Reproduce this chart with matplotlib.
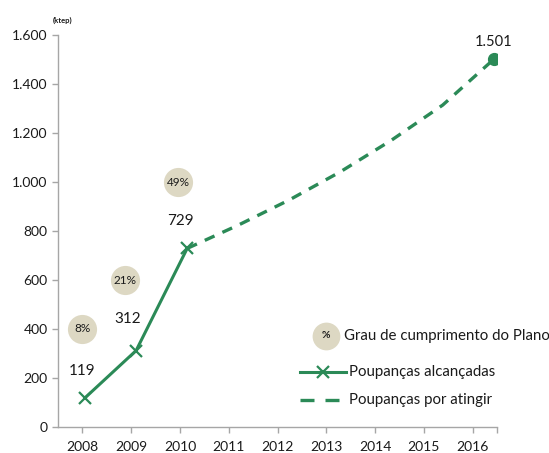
import matplotlib
matplotlib.use("Agg")
import matplotlib.pyplot as plt
from matplotlib.lines import Line2D
from matplotlib.ticker import FuncFormatter

plt.rcParams['font.family'] = ['Lato', 'DejaVu Sans']

years = ['2008', '2009', '2010', '2011', '2012', '2013', '2014', '2015', '2016']
achieved = [119, 312, 729]                     # 2008-2010
target = [729, 824, 927, 1042, 1171, 1314, 1501]  # 2010-2016 (path to target)
achieved_labels = ['119', '312', '729']
pct = ['8%', '21%', '49%']
pct_y = [400, 600, 1000]
target_label = '1.501'

GREEN = '#2b8a57'
TAN = '#ddd8c3'
GREY = '#a6a6a6'
TXT = '#1a1a1a'

W, H = 549, 453
fig = plt.figure(figsize=(W / 100, H / 100), dpi=100)
ax = fig.add_axes([58 / W, 26 / H, (497 - 58) / W, (427 - 35) / H])

# main category axis
ax.set_xlim(-0.5, 8.5)
ax.set_ylim(0, 1600)
ax.set_xticks(range(len(years)))
ax.set_xticklabels(years)
ax.set_yticks(range(0, 1601, 200))
ax.yaxis.set_major_formatter(FuncFormatter(lambda v, p: f"{int(v):,}".replace(',', '.')))
for s in ['top', 'right']:
    ax.spines[s].set_visible(False)
for s in ['left', 'bottom']:
    ax.spines[s].set_color(GREY)
    ax.spines[s].set_linewidth(1.0)
ax.tick_params(axis='both', colors=GREY, length=4, width=1.0, labelcolor=TXT, labelsize=10)
ax.tick_params(axis='x', pad=6)
ax.set_xticks([8.5], minor=True)
ax.tick_params(axis='x', which='minor', length=4, width=1.0, colors=GREY)

# twin axis for the savings lines (own horizontal scale, as in the original overlay)
ax2 = ax.twiny()
step = 51.1
ax2.set_xlim((58 - 85) / step, (497 - 85) / step)
ax2.set_ylim(0, 1600)
ax2.axis('off')

xa = list(range(len(achieved)))
xt = list(range(len(achieved) - 1, len(achieved) - 1 + len(target)))
ax2.plot(xt, target, color=GREEN, lw=2.4, ls=(0, (3.2, 2.6)), dash_capstyle='butt', zorder=3)
ax2.plot(xa, achieved, color=GREEN, lw=2.2, marker='x', ms=9, mew=1.6, zorder=4)
ax2.plot([xt[-1]], [target[-1]], marker='o', color=GREEN, ms=8.5, zorder=5)
ax2.text(xt[-1], target[-1] + 40, target_label, ha='center', va='bottom', fontsize=10.5, color=TXT)

# data labels and percentage bubbles (main axis coordinates)
lab_x = [0, 0.92, 2.0]
lab_y = [230, 440, 840]
for x, y, t in zip(lab_x, lab_y, achieved_labels):
    ax.text(x, y, t, ha='center', va='center', fontsize=11, color=TXT)
pct_x = [0, 0.88, 1.96]
for x, y, t in zip(pct_x, pct_y, pct):
    ax.plot([x], [y], marker='o', ms=21, color=TAN, mew=0, zorder=2)
    ax.text(x, y, t, ha='center', va='center', fontsize=8.5, color=TXT, zorder=3)

ax.text(-0.4, 1645, '(ktep)', fontsize=5.5, fontweight='bold', color=TXT, ha='center', va='bottom')

# legend (drawn manually in figure pixels)
def fx(px):
    return px / W

def fy(py):
    return 1 - py / H

fig.add_artist(Line2D([fx(326)], [fy(336)], marker='o', ms=20, color=TAN, mew=0))
fig.text(fx(326), fy(336), '%', ha='center', va='center', fontsize=7.5, fontweight='bold', color=TXT)
fig.text(fx(344), fy(336), 'Grau de cumprimento do Plano', ha='left', va='center', fontsize=10.8, color=TXT)

fig.add_artist(Line2D([fx(300), fx(346)], [fy(372), fy(372)], color=GREEN, lw=2.2))
fig.add_artist(Line2D([fx(323)], [fy(372)], marker='x', ms=8, mew=1.6, color=GREEN))
fig.text(fx(349), fy(372), 'Poupanças alcançadas', ha='left', va='center', fontsize=10.8, color=TXT)

fig.add_artist(Line2D([fx(300), fx(346)], [fy(400), fy(400)], color=GREEN, lw=2.4,
                      ls=(0, (4.2, 3.3)), dash_capstyle='butt'))
fig.text(fx(349), fy(400), 'Poupanças por atingir', ha='left', va='center', fontsize=10.8, color=TXT)

fig.savefig('out.png', dpi=100)
